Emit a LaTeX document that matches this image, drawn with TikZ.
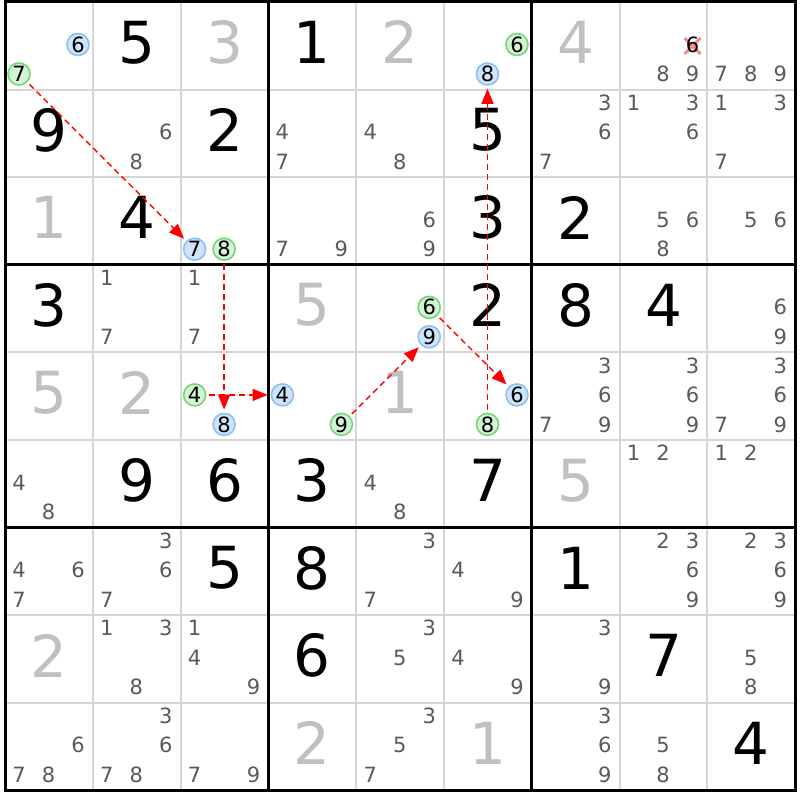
\documentclass[tikz,border=0pt]{standalone}
\usepackage{fontspec}
\setmainfont{DejaVu Sans}
\usetikzlibrary{arrows.meta}
\definecolor{candgray}{RGB}{90,90,90}
\definecolor{ghostgray}{RGB}{192,192,192}
\definecolor{thingray}{RGB}{214,214,214}
\definecolor{bluefill}{RGB}{206,228,250}
\definecolor{blueline}{RGB}{140,192,242}
\definecolor{greenfill}{RGB}{212,242,212}
\definecolor{greenline}{RGB}{120,212,120}
\definecolor{crossred}{RGB}{242,140,140}
\newcommand\CellX[2]{5+(#2-1)*87.8+14+mod(#1-1,3)*29.5}
\newcommand\CellY[2]{2+(#2-1)*87.6+13+floor((#1-1)/3)*29.5}
\newcommand\MarkC[5]{%
  \pgfmathsetmacro\mx{\CellX{#5}{#4}}%
  \pgfmathsetmacro\my{\CellY{#5}{#3}}%
  \node[#1] (#2) at (\mx,\my) {#5};}
\begin{document}
\begin{tikzpicture}[x=1pt,y=-1pt,
  bigd/.style={inner sep=0pt,font=\fontsize{58}{58}\selectfont},
  givend/.style={bigd,text=black},
  ghostd/.style={bigd,text=ghostgray},
  cand/.style={inner sep=0pt,text=candgray,font=\fontsize{21}{21}\selectfont},
  bcirc/.style={circle,draw=blueline,fill=bluefill,line width=1.6pt,minimum size=22pt,inner sep=0pt,font=\fontsize{21}{21}\selectfont},
  gcirc/.style={circle,draw=greenline,fill=greenfill,line width=1.6pt,minimum size=22pt,inner sep=0pt,font=\fontsize{21}{21}\selectfont},
  thin/.style={draw=thingray,line width=2pt},
  thick/.style={draw=black,line width=3pt},
  link/.style={draw=red,line width=1.4pt,dash pattern=on 6pt off 4pt,-{Triangle[length=15pt,width=12pt]},shorten <=3pt,shorten >=3pt},
  xmark/.style={draw=crossred,line width=3pt}]
\useasboundingbox (0,0) rectangle (800,800);
\fill[white] (0,0) rectangle (800,800);
% grid
\foreach \i in {1,2,4,5,7,8}{
  \draw[thin] ({5+\i*87.8},2) -- ({5+\i*87.8},790.4);
  \draw[thin] (5,{2+\i*87.6}) -- (795.2,{2+\i*87.6});
}
\foreach \i in {3,6}{
  \draw[thick] ({5+\i*87.8},2) -- ({5+\i*87.8},790.4);
  \draw[thick] (5,{2+\i*87.6}) -- (795.2,{2+\i*87.6});
}
\draw[thick] (5,2) rectangle (795.2,790.4);
% given digits
\foreach \r/\c/\d in {1/2/5,1/4/1,2/1/9,2/3/2,2/6/5,3/2/4,3/6/3,3/7/2,4/1/3,4/6/2,4/7/8,4/8/4,6/2/9,6/3/6,6/4/3,6/6/7,7/3/5,7/4/8,7/7/1,8/4/6,8/8/7,9/9/4}{
  \node[givend] (v-\r-\c) at ({5+(\c-0.5)*87.8},{2+(\r-0.5)*87.6-3.5}) {\d};
}
% placeholder digits
\foreach \r/\c/\d in {1/3/3,1/5/2,1/7/4,3/1/1,4/4/5,5/1/5,5/2/2,5/5/1,6/7/5,8/1/2,9/4/2,9/6/1}{
  \node[ghostd] (p-\r-\c) at ({5+(\c-0.5)*87.8},{2+(\r-0.5)*87.6-3.5}) {\d};
}
% candidates
\foreach \r/\c/\L in {1/8/{8,9},1/9/{7,8,9},
  2/2/{6,8},2/4/{4,7},2/5/{4,8},2/7/{3,6,7},2/8/{1,3,6},2/9/{1,3,7},
  3/4/{7,9},3/5/{6,9},3/8/{5,6,8},3/9/{5,6},
  4/2/{1,7},4/3/{1,7},4/9/{6,9},
  5/7/{3,6,7,9},5/8/{3,6,9},5/9/{3,6,7,9},
  6/1/{4,8},6/5/{4,8},6/8/{1,2},6/9/{1,2},
  7/1/{4,6,7},7/2/{3,6,7},7/5/{3,7},7/6/{4,9},7/8/{2,3,6,9},7/9/{2,3,6,9},
  8/2/{1,3,8},8/3/{1,4,9},8/5/{3,5},8/6/{4,9},8/7/{3,9},8/9/{5,8},
  9/1/{6,7,8},9/2/{3,6,7,8},9/3/{7,9},9/5/{3,5,7},9/7/{3,6,9},9/8/{5,8}}{
  \foreach \d in \L{
    \MarkC{cand}{k-\r-\c-\d}{\r}{\c}{\d}
  }
}
% eliminated candidate
\pgfmathsetmacro\ex{\CellX{6}{8}}
\pgfmathsetmacro\ey{\CellY{6}{1}+1.5}
\coordinate (xc) at (\ex,\ey);
\draw[xmark] ([shift={(-8,-8)}]xc) -- ([shift={(8,8)}]xc);
\draw[xmark] ([shift={(-8,8)}]xc) -- ([shift={(8,-8)}]xc);
\MarkC{cand,text=black}{k-1-8-6}{1}{8}{6}
% highlighted candidates
\MarkC{bcirc}{b0}{1}{1}{6}
\MarkC{gcirc}{g1}{1}{1}{7}
\MarkC{gcirc}{g0}{1}{6}{6}
\MarkC{bcirc}{b6}{1}{6}{8}
\MarkC{bcirc}{b1}{3}{3}{7}
\MarkC{gcirc}{g2}{3}{3}{8}
\MarkC{gcirc}{g5}{4}{5}{6}
\MarkC{bcirc}{b4}{4}{5}{9}
\MarkC{gcirc}{g3}{5}{3}{4}
\MarkC{bcirc}{b2}{5}{3}{8}
\MarkC{bcirc}{b3}{5}{4}{4}
\MarkC{gcirc}{g4}{5}{4}{9}
\MarkC{bcirc}{b5}{5}{6}{6}
\MarkC{gcirc}{g6}{5}{6}{8}
% links
\draw[link] (g1) -- (b1);
\draw[link] (g2) -- (b2);
\draw[link] (g3) -- (b3);
\draw[link] (g4) -- (b4);
\draw[link] (g5) -- (b5);
\draw[link] (g6) -- (b6);
\end{tikzpicture}
\end{document}
